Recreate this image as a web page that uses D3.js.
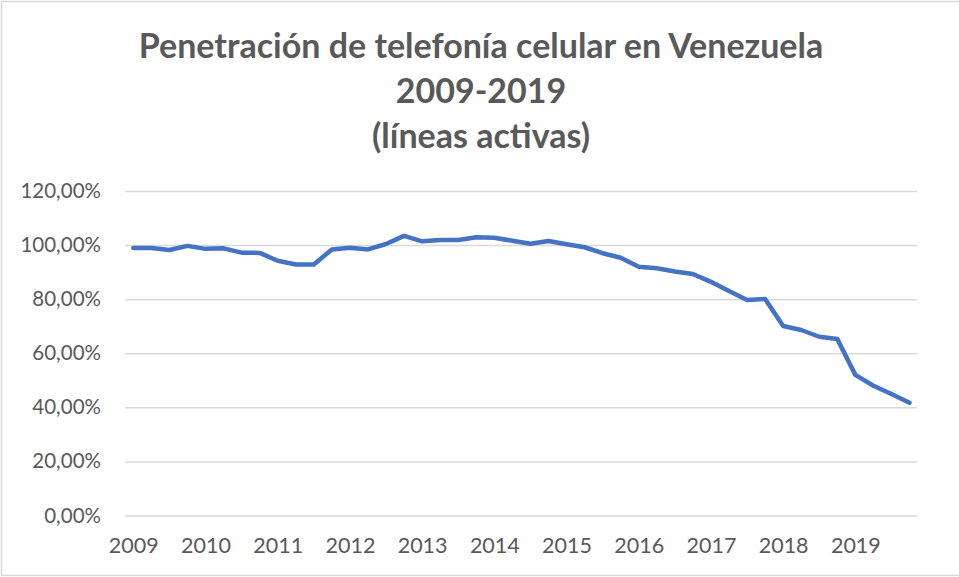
<!DOCTYPE html>
<html>
<head>
<meta charset="utf-8">
<script src="https://cdn.jsdelivr.net/npm/d3@7"></script>
<style>
  body { margin: 0; background: #fff; }
  text { font-family: Lato, "Open Sans", sans-serif; fill: #595959; }
</style>
</head>
<body>
<div id="container"></div>
<script>
// one value per quarter, 2009 Q1 .. 2019 Q4 (share of population, %)
const years = [2009, 2010, 2011, 2012, 2013, 2014, 2015, 2016, 2017, 2018, 2019];
const quarters = ["T1", "T2", "T3", "T4"];
const penetration = [
    98.9, 98.9, 98.2, 99.7,
    98.6, 98.8, 97.2, 97.1,
    94.2, 92.8, 92.8, 98.4,
    99.0, 98.4, 100.4, 103.4,
    101.4, 101.9, 101.9, 102.9,
    102.7, 101.6, 100.5, 101.5,
    100.3, 99.2, 97.0, 95.3,
    92.0, 91.4, 90.2, 89.3,
    86.4, 83.0, 79.7, 80.1,
    70.1, 68.6, 66.1, 65.3,
    52.0, 48.0, 44.9, 41.7
];
const yTicks = [0, 20, 40, 60, 80, 100, 120];
const titleLines = [
    "Penetración de telefonía celular en Venezuela",
    "2009-2019",
    "(líneas activas)"
];

function chart(){
    const width = 959;
    const height = 577;
    const plot = {left: 125, right: 917, top: 191, bottom: 515.5};

    // category keys, one per quarter
    const categories = [];
    years.forEach(y => quarters.forEach(q => categories.push(y + " " + q)));

    const xScale = d3.scalePoint()
        .domain(categories)
        .range([133.3, 909.5]);

    const yScale = d3.scaleLinear()
        .domain([0, 120])
        .range([plot.bottom, plot.top]);

    const svg = d3.select("#container")
        .append("svg")
        .attr("width", width)
        .attr("height", height);

    //outer frame of the chart
    svg.append("rect")
        .attr("x", 1.5)
        .attr("y", 1.5)
        .attr("width", width + 10)
        .attr("height", height - 3)
        .attr("fill", "white")
        .attr("stroke", "#d9d9d9")
        .attr("stroke-width", 1.5);

    //title, three lines
    svg.append("g")
        .selectAll("text")
        .data(titleLines)
        .join("text")
        .attr("x", 481)
        .attr("y", (d, i) => 58 + i * 45)
        .attr("text-anchor", "middle")
        .attr("font-size", 34)
        .attr("font-weight", "bold")
        .text(d => d);

    //gridlines + y labels
    const yAxis = svg.append("g")
        .attr("transform", `translate(${plot.left},0)`)
        .call(d3.axisLeft(yScale)
            .tickValues(yTicks)
            .tickSize(-(plot.right - plot.left))
            .tickPadding(24)
            .tickFormat(d => d3.format(".2f")(d).replace(".", ",") + "%"));
    yAxis.select(".domain").remove();
    yAxis.selectAll(".tick line")
        .attr("stroke", "#d9d9d9")
        .attr("stroke-width", 1.5);
    yAxis.selectAll(".tick text")
        .attr("font-size", 20.5)
        .attr("fill", "#595959")
        .attr("font-family", "Lato, sans-serif");

    //x labels, one per year on the first quarter
    const xAxis = svg.append("g")
        .attr("transform", `translate(0,${plot.bottom})`)
        .call(d3.axisBottom(xScale)
            .tickValues(categories.filter((c, i) => i % 4 === 0))
            .tickSize(0)
            .tickPadding(22)
            .tickFormat(c => c.split(" ")[0]));
    xAxis.select(".domain").remove();
    xAxis.selectAll(".tick text")
        .attr("font-size", 21.5)
        .attr("fill", "#595959")
        .attr("font-family", "Lato, sans-serif");

    //the series line
    const line = d3.line()
        .x((d, i) => xScale(categories[i]))
        .y(d => yScale(d));

    svg.append("path")
        .datum(penetration)
        .attr("d", line)
        .attr("fill", "none")
        .attr("stroke", "#4472c4")
        .attr("stroke-width", 4.5)
        .attr("stroke-linejoin", "round")
        .attr("stroke-linecap", "round");
}

chart();
</script>
</body>
</html>
